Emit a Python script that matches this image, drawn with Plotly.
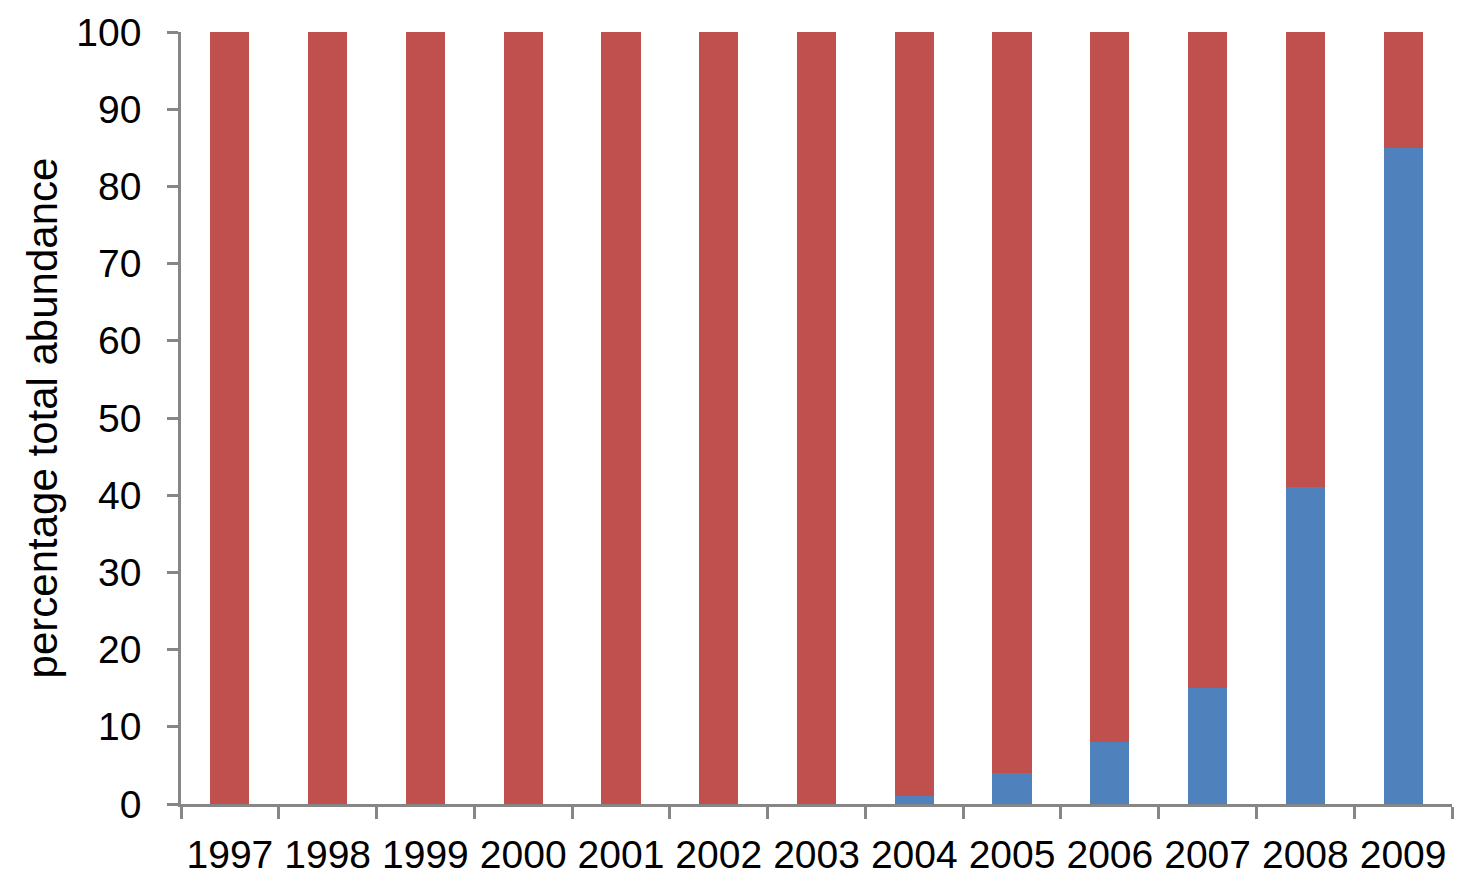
import plotly.graph_objects as go

years = ['1997', '1998', '1999', '2000', '2001', '2002', '2003',
         '2004', '2005', '2006', '2007', '2008', '2009']
blue_pct = [0, 0, 0, 0, 0, 0, 0, 1, 4, 8, 15, 41, 85]
red_pct = [100, 100, 100, 100, 100, 100, 100, 99, 96, 92, 85, 59, 15]
y_ticks = [0, 10, 20, 30, 40, 50, 60, 70, 80, 90, 100]

axis_grey = '#868686'
font_family = 'Liberation Sans, Arial, sans-serif'

fig = go.Figure()
fig.add_trace(go.Bar(x=years, y=blue_pct, name='blue', marker_color='#4F81BD',
                     marker_line_width=0))
fig.add_trace(go.Bar(x=years, y=red_pct, name='red', marker_color='#C0504D',
                     marker_line_width=0))

# page body has an 8px margin, so the figure is a bit smaller than the window
fig.update_layout(
    barmode='stack',
    bargap=0.6,
    width=1460, height=868,
    margin=dict(l=173, r=16, t=24, b=72, autoexpand=False),
    plot_bgcolor='white', paper_bgcolor='white',
    showlegend=False,
    font=dict(family=font_family, size=39, color='black'),
)

fig.update_xaxes(
    type='category',
    showline=True, linecolor=axis_grey, linewidth=2.5,
    ticks='outside', tickson='boundaries', ticklen=12, tickwidth=2.5, tickcolor=axis_grey,
    showgrid=False, zeroline=False,
    tickfont=dict(size=39),
    ticklabelstandoff=14,
)
fig.update_yaxes(
    range=[0, 100],
    tickvals=y_ticks,
    showline=True, linecolor=axis_grey, linewidth=2.5,
    ticks='outside', ticklen=11, tickwidth=2.5, tickcolor=axis_grey,
    showgrid=False, zeroline=False,
    tickfont=dict(size=39),
    ticklabelstandoff=18,
    title=dict(text='percentage total abundance', font=dict(size=42), standoff=6),
)

fig.write_html("out.html")
